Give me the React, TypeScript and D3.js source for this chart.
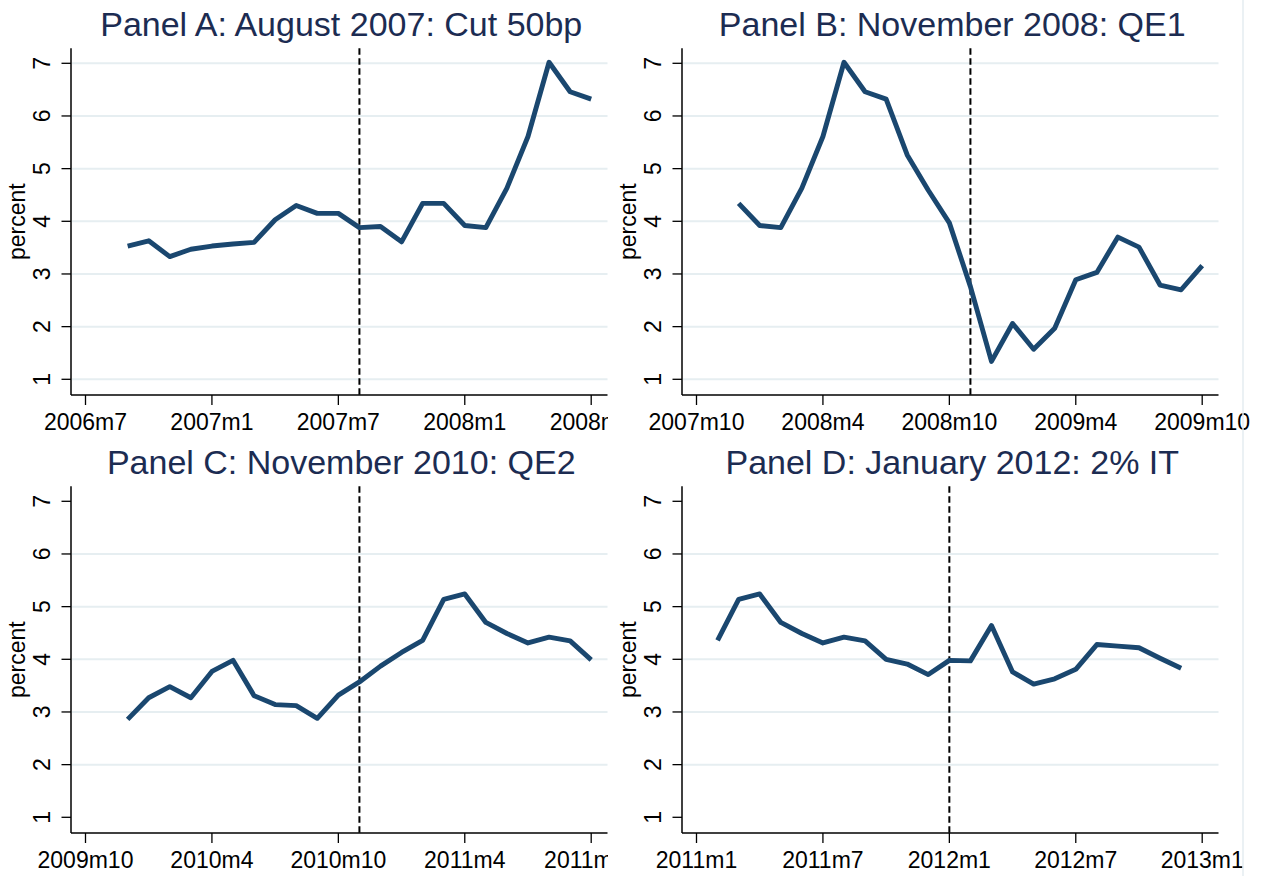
import React from 'react';
import * as d3 from 'd3';

// monthly series, 11 months either side of each event
const panelTitles = [
  'Panel A: August 2007: Cut 50bp',
  'Panel B: November 2008: QE1',
  'Panel C: November 2010: QE2',
  'Panel D: January 2012: 2% IT',
];
const eventMonths = ['2007m8', '2008m11', '2010m11', '2012m1'];
const startMonths = ['2006m9', '2007m12', '2009m12', '2011m2'];

const valuesA = [3.53, 3.63, 3.33, 3.47, 3.53, 3.57, 3.6, 4.03, 4.3, 4.15, 4.15, 3.88, 3.9, 3.61, 4.34, 4.34, 3.92, 3.88, 4.63, 5.61, 7.02, 6.46, 6.32];
const valuesB = [4.34, 3.92, 3.88, 4.63, 5.61, 7.02, 6.46, 6.32, 5.26, 4.59, 3.97, 2.76, 1.34, 2.06, 1.57, 1.97, 2.89, 3.03, 3.7, 3.51, 2.79, 2.7, 3.16];
const valuesC = [2.86, 3.27, 3.48, 3.27, 3.77, 3.98, 3.31, 3.14, 3.12, 2.88, 3.32, 3.57, 3.87, 4.13, 4.36, 5.14, 5.24, 4.7, 4.49, 4.31, 4.42, 4.35, 3.99];
const valuesD = [4.36, 5.14, 5.24, 4.7, 4.49, 4.31, 4.42, 4.35, 4.0, 3.91, 3.71, 3.98, 3.97, 4.64, 3.76, 3.53, 3.63, 3.81, 4.28, 4.25, 4.22, 4.02, 3.83];

const ticksA = ['2006m7', '2007m1', '2007m7', '2008m1', '2008m7'];
const ticksB = ['2007m10', '2008m4', '2008m10', '2009m4', '2009m10'];
const ticksC = ['2009m10', '2010m4', '2010m10', '2011m4', '2011m10'];
const ticksD = ['2011m1', '2011m7', '2012m1', '2012m7', '2013m1'];
const yTicks = [1, 2, 3, 4, 5, 6, 7];

const seriesList = [valuesA, valuesB, valuesC, valuesD];
const tickList = [ticksA, ticksB, ticksC, ticksD];

const FONT = "'Liberation Sans', Arial, Helvetica, sans-serif";
const LINE = '#1a476f';
const TITLE = '#1c2c52';
const GRID = '#e6eef1';

const toMonth = (s: string) => {
  const [y, m] = s.split('m');
  return +y * 12 + (+m - 1);
};

const Panel = ({ idx }: { idx: number }) => {
  const col = idx % 2;
  const row = Math.floor(idx / 2);
  const axisX = col === 0 ? 71 : 682;
  const offY = row * 438;
  const axisTop = 48.3 + offY;
  const axisBottom = 395 + offY;
  const axisRight = axisX + 536.5;
  const ticks = tickList[idx];
  const values = seriesList[idx];
  const start = toMonth(startMonths[idx]);

  const x = d3.scaleLinear()
    .domain([toMonth(ticks[0]), toMonth(ticks[ticks.length - 1])])
    .range([axisX + 14.5, axisX + 14.5 + 505.7]);
  const y = d3.scaleLinear().domain([1, 7]).range([379.3 + offY, 63.3 + offY]);

  const line = d3.line<number>()
    .x((_, i) => x(start + i))
    .y(d => y(d));

  const gridTicks = row === 0 ? yTicks : yTicks.filter(t => t > 1 && t < 7);
  const clipId = `clip-${idx}`;
  const clipX0 = col === 0 ? 0 : 611;
  const clipX1 = col === 0 ? 608 : 1267;
  const ev = x(toMonth(eventMonths[idx]));

  return (
    <g>
      <defs>
        <clipPath id={clipId}>
          <rect x={clipX0} y={0} width={clipX1 - clipX0} height={876} />
        </clipPath>
      </defs>
      <g clipPath={`url(#${clipId})`}>
        <text x={(axisX + axisRight) / 2 + 2} y={36 + offY} textAnchor="middle"
          fontSize={34} fill={TITLE} fontFamily={FONT}>{panelTitles[idx]}</text>

        {gridTicks.map(t => (
          <line key={`g${t}`} x1={axisX + 1} x2={axisRight} y1={y(t)} y2={y(t)}
            stroke={GRID} strokeWidth={2} />
        ))}

        {yTicks.map(t => (
          <g key={`y${t}`}>
            <line x1={axisX - 9.5} x2={axisX} y1={y(t)} y2={y(t)} stroke="#000" strokeWidth={1.3} />
            <text transform={`translate(${axisX - 21},${y(t)}) rotate(-90)`} textAnchor="middle"
              fontSize={23} fontFamily={FONT} fill="#000">{t}</text>
          </g>
        ))}

        <text transform={`translate(${axisX - 46},${(axisTop + axisBottom) / 2}) rotate(-90)`}
          textAnchor="middle" fontSize={23} fontFamily={FONT} fill="#000">percent</text>

        {ticks.map(t => (
          <g key={t}>
            <line x1={x(toMonth(t))} x2={x(toMonth(t))} y1={axisBottom} y2={axisBottom + 10}
              stroke="#000" strokeWidth={1.3} />
            <text x={x(toMonth(t))} y={430 + offY} textAnchor="middle" fontSize={23}
              fontFamily={FONT} fill="#000">{t}</text>
          </g>
        ))}

        <line x1={axisX} x2={axisX} y1={axisTop} y2={axisBottom} stroke="#000" strokeWidth={1.5} />
        <line x1={axisX} x2={axisRight} y1={axisBottom} y2={axisBottom} stroke="#000" strokeWidth={1.5} />

        <line x1={ev} x2={ev} y1={axisTop} y2={axisBottom} stroke="#000" strokeWidth={2}
          strokeDasharray="6.5,3.5" />

        <path d={line(values) || ''} fill="none" stroke={LINE} strokeWidth={4.9}
          strokeLinejoin="round" />
      </g>
    </g>
  );
};

export default function App() {
  return (
    <svg width={1267} height={876} style={{ position: 'absolute', left: 0, top: 0, background: '#fff' }}>
      <rect width={1267} height={876} fill="#fff" />
      {[0, 1, 2, 3].map(i => <Panel key={i} idx={i} />)}
      <line x1={1243} x2={1243} y1={0} y2={876} stroke="#e4ecf0" strokeWidth={1.5} />
    </svg>
  );
}
